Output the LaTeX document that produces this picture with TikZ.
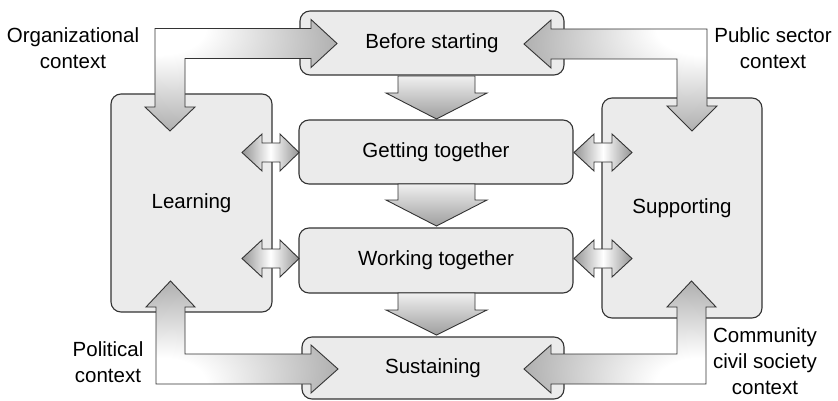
\documentclass[tikz,border=0pt]{standalone}
\usepackage{fontspec}
\setmainfont{Liberation Sans}
\usetikzlibrary{calc}

% gray-white-gray across the small two-headed arrows
\pgfdeclarehorizontalshading{dblshade}{100bp}{%
  color(0bp)=(black!42); color(25bp)=(black!42);
  color(50bp)=(white); color(75bp)=(black!42); color(100bp)=(black!42)}
% light at the top, darker towards the tip of the flow arrows
\pgfdeclareverticalshading{flowshade}{100bp}{%
  color(0bp)=(black!38); color(25bp)=(black!38);
  color(75bp)=(black!6); color(100bp)=(black!6)}
% bent arrows: white at the outer corner, grey towards both heads
\pgfdeclareradialshading{bendTL}{\pgfpoint{-25bp}{25bp}}{%
  color(0bp)=(white); color(12bp)=(white); color(50bp)=(black!45); color(80bp)=(black!45)}
\pgfdeclareradialshading{bendTR}{\pgfpoint{25bp}{25bp}}{%
  color(0bp)=(white); color(12bp)=(white); color(50bp)=(black!45); color(80bp)=(black!45)}
\pgfdeclareradialshading{bendBL}{\pgfpoint{-25bp}{-25bp}}{%
  color(0bp)=(white); color(12bp)=(white); color(50bp)=(black!45); color(80bp)=(black!45)}
\pgfdeclareradialshading{bendBR}{\pgfpoint{25bp}{-25bp}}{%
  color(0bp)=(white); color(12bp)=(white); color(50bp)=(black!45); color(80bp)=(black!45)}

\definecolor{boxfill}{HTML}{EBEBEB}
\definecolor{edge}{HTML}{333333}

\tikzset{
  stagebox/.style={draw=edge, line width=1.1pt, fill=boxfill, rounded corners=10pt,
    inner sep=0pt, align=center, font=\fontsize{20.5}{25}\selectfont},
  label/.style={align=center, font=\fontsize{20.5}{26}\selectfont, inner sep=0pt},
  fatarrow/.style={draw=edge, line width=0.9pt, line join=miter},
  dblarrow/.style={fatarrow, shading=dblshade},
  flowarrow/.style={fatarrow, shading=flowshade},
}

\begin{document}
\begin{tikzpicture}[x=1pt, y=-1pt]
\useasboundingbox (0,0) rectangle (838,401);

% side boxes
\node[stagebox, minimum width=161pt, minimum height=218pt] (learn) at (191.5,203) {Learning};
\node[stagebox, minimum width=160pt, minimum height=220pt] (support) at (682,208) {Supporting};

% stages
\node[stagebox, minimum width=264pt, minimum height=64pt] (before) at (432,43) {Before starting};
\node[stagebox, minimum width=274pt, minimum height=64pt] (getting) at (436,152) {Getting together};
\node[stagebox, minimum width=274pt, minimum height=65pt] (working) at (436,260.5) {Working together};
\node[stagebox, minimum width=262pt, minimum height=62pt] (sustain) at (433,368) {Sustaining};

% flow arrows between the stages
\foreach \top/\base/\tip in {76/93/119, 184/200/226, 293/310/335}{
  \draw[flowarrow] (398,\top) -- (475,\top) -- (475,\base) -- (487,\base)
    -- (436.5,\tip) -- (386,\base) -- (398,\base) -- cycle;
}

% two-headed links to Learning and Supporting
\foreach \c in {152.5, 258.5}{
  \draw[dblarrow] (242,\c) -- (262,\c-18.5) -- (262,\c-9.5) -- (280,\c-9.5)
    -- (280,\c-18.5) -- (299,\c) -- (280,\c+18.5) -- (280,\c+9.5)
    -- (262,\c+9.5) -- (262,\c+18.5) -- cycle;
  \draw[dblarrow] (574,\c) -- (594,\c-18.5) -- (594,\c-9.5) -- (612,\c-9.5)
    -- (612,\c-18.5) -- (632,\c) -- (612,\c+18.5) -- (612,\c+9.5)
    -- (594,\c+9.5) -- (594,\c+18.5) -- cycle;
}

% context arrows
\draw[fatarrow, shading=bendTL] (155,28.5) -- (311,28.5) -- (311,19.5) -- (337,43.5)
  -- (311,67.5) -- (311,58.5) -- (185,58.5) -- (185,107) -- (195,107)
  -- (170,131) -- (145,107) -- (155,107) -- cycle;
\draw[fatarrow, shading=bendTR] (707,29) -- (551,29) -- (551,20) -- (524,44)
  -- (551,68) -- (551,59) -- (677,59) -- (677,106) -- (667,106)
  -- (692,131) -- (717,106) -- (707,106) -- cycle;
\draw[fatarrow, shading=bendBL] (156,384) -- (156,307) -- (146,307) -- (170.5,281)
  -- (195,307) -- (185,307) -- (185,354) -- (311,354) -- (311,345)
  -- (338,369) -- (311,393) -- (311,384) -- cycle;
\draw[fatarrow, shading=bendBR] (706,384) -- (706,307) -- (716,307) -- (691.5,281)
  -- (667,307) -- (677,307) -- (677,354) -- (551,354) -- (551,345)
  -- (524,369) -- (551,393) -- (551,384) -- cycle;

% context labels
\node[label] (orgctx) at (73,48) {Organizational\\context};
\node[label] (pubctx) at (773,48) {Public sector\\context};
\node[label] (polctx) at (108,362) {Political\\context};
\node[label] (comctx) at (765,361) {Community\\civil society\\context};
\end{tikzpicture}
\end{document}
